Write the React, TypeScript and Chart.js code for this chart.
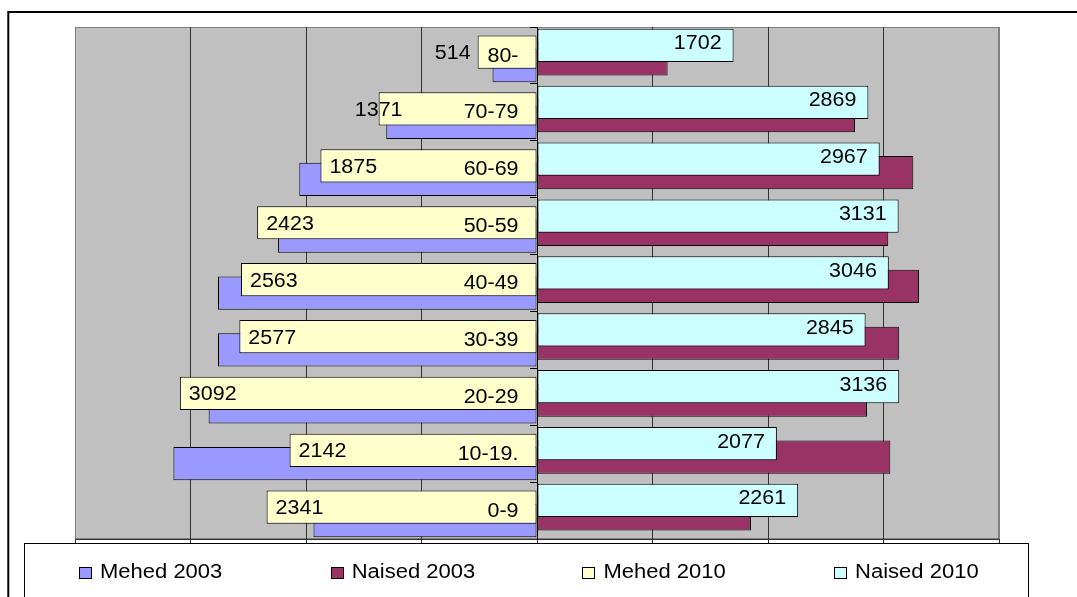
import React, { useEffect, useRef } from "react";
import { Chart, registerables } from "chart.js";

Chart.register(...registerables);

// ---- data ----
const categories = ["0-9", "10-19.", "20-29", "30-39", "40-49", "50-59", "60-69", "70-79", "80-"];
const mehed2003 = [1935, 3148, 2843, 2762, 2762, 2242, 2058, 1305, 385];
const naised2003 = [1853, 3059, 2857, 3136, 3308, 3041, 3258, 2753, 1131];
const mehed2010 = [2341, 2142, 3092, 2577, 2563, 2423, 1875, 1371, 514];
const naised2010 = [2261, 2077, 3136, 2845, 3046, 3131, 2967, 2869, 1702];
const seriesNames = ["Mehed 2003", "Naised 2003", "Mehed 2010", "Naised 2010"];
const seriesColors = ["#9999FF", "#993366", "#FFFFCC", "#CCFFFF"];
const axisMin = -4000;
const axisMax = 4000;
const axisStep = 1000;

const FONT = '"Liberation Sans", Arial, sans-serif';

function drawText(
  ctx: CanvasRenderingContext2D,
  text: string,
  x: number,
  baseline: number,
  align: "left" | "right" | "center",
  size = 19.5,
  sx = 1.1
) {
  ctx.save();
  ctx.font = `${size}px ${FONT}`;
  const w = ctx.measureText(text).width * sx;
  let left = x;
  if (align === "right") left = x - w;
  else if (align === "center") left = x - w / 2;
  ctx.translate(left, baseline);
  ctx.scale(sx, 1);
  ctx.textAlign = "left";
  ctx.textBaseline = "alphabetic";
  ctx.fillStyle = "#000";
  ctx.fillText(text, 0, 0);
  ctx.restore();
}

const backgroundPlugin = {
  id: "bgPlugin",
  beforeDraw(chart: any) {
    const { ctx, chartArea } = chart;
    ctx.save();
    ctx.fillStyle = "#ffffff";
    ctx.fillRect(0, 0, chart.width, chart.height);
    // outer frame
    ctx.strokeStyle = "#000";
    ctx.lineWidth = 2;
    ctx.strokeRect(8.3, 12, 2000, 2000);
    // plot area
    ctx.fillStyle = "#C0C0C0";
    ctx.fillRect(chartArea.left, chartArea.top, chartArea.right - chartArea.left, chartArea.bottom - chartArea.top);
    ctx.strokeStyle = "#808080";
    ctx.lineWidth = 1;
    ctx.strokeRect(chartArea.left + 0.5, chartArea.top + 0.5, chartArea.right - chartArea.left - 1, chartArea.bottom - chartArea.top - 1);
    ctx.restore();
  },
};

const labelPlugin = {
  id: "labelPlugin",
  afterDatasetsDraw(chart: any) {
    const ctx = chart.ctx as CanvasRenderingContext2D;
    const metaN = chart.getDatasetMeta(0);
    const metaM = chart.getDatasetMeta(1);
    metaM.data.forEach((el: any, i: number) => {
      const { x, y, base } = el.getProps(["x", "y", "base"], true);
      const len = base - x;
      const val = String(mehed2010[i]);
      drawText(ctx, categories[i], base - 18, y + 9.5, "right");
      if (len > 200) drawText(ctx, val, x + 9, y + 7, "left");
      else if (len > 100) drawText(ctx, val, x, y + 7, "center");
      else drawText(ctx, val, x - 7, y + 7, "right");
    });
    metaN.data.forEach((el: any, i: number) => {
      const { x, y } = el.getProps(["x", "y"], true);
      drawText(ctx, String(naised2010[i]), x - 12, y + 4, "right");
    });
  },
};

const legendPlugin = {
  id: "legendPlugin",
  afterDraw(chart: any) {
    const ctx = chart.ctx as CanvasRenderingContext2D;
    ctx.save();
    ctx.fillStyle = "#fff";
    ctx.fillRect(24, 543, 1005, 80);
    ctx.strokeStyle = "#000";
    ctx.lineWidth = 1;
    ctx.strokeRect(24.5, 543.5, 1004, 80);
    seriesNames.forEach((name, k) => {
      const x0 = 79 + k * 251.7;
      ctx.fillStyle = seriesColors[k];
      ctx.fillRect(Math.round(x0) + 0.5, 567.5, 12, 11);
      ctx.strokeStyle = "#000";
      ctx.strokeRect(Math.round(x0) + 0.5, 567.5, 12, 11);
      drawText(ctx, name, x0 + 21, 578.3, "left", 20, 1.1);
    });
    ctx.restore();
  },
};

export default function App() {
  const ref = useRef<HTMLCanvasElement | null>(null);
  useEffect(() => {
    if (!ref.current) return;
    const neg = (a: number[]) => a.map((v) => -v);
    const chart = new Chart(ref.current, {
      type: "bar",
      data: {
        labels: categories,
        datasets: [
          { label: seriesNames[3], data: naised2010, backgroundColor: seriesColors[3] },
          { label: seriesNames[2], data: neg(mehed2010), backgroundColor: seriesColors[2] },
          { label: seriesNames[1], data: naised2003, backgroundColor: seriesColors[1] },
          { label: seriesNames[0], data: neg(mehed2003), backgroundColor: seriesColors[0] },
        ].map((d) => ({
          ...d,
          borderColor: "#000",
          borderWidth: 1,
          borderSkipped: false,
          categoryPercentage: 0.472,
          barPercentage: 4.95,
        })),
      },
      options: {
        indexAxis: "y",
        animation: false,
        responsive: false,
        devicePixelRatio: 1,
        layout: { padding: { left: 75, top: 27, right: 78, bottom: 54 } },
        plugins: {
          legend: { display: false },
          tooltip: { enabled: false },
        },
        scales: {
          x: {
            type: "linear",
            min: axisMin,
            max: axisMax,
            ticks: { stepSize: axisStep, display: false },
            grid: {
              color: (c: any) =>
                c.tick && (c.tick.value === axisMin || c.tick.value === axisMax) ? "#808080" : "#333",
              lineWidth: 1,
              drawTicks: true,
              tickLength: 4,
              tickColor: "#333",
            },
            border: { display: true, color: "#333", width: 1 },
          },
          y: {
            type: "category",
            reverse: true,
            position: { x: 0 },
            offset: true,
            ticks: { display: false },
            grid: {
              offset: true,
              drawOnChartArea: false,
              drawTicks: true,
              tickLength: 7,
              tickColor: "#000",
            },
            border: { display: true, color: "#000", width: 1, z: 1 },
          },
        },
      } as any,
      plugins: [backgroundPlugin, labelPlugin, legendPlugin],
    });
    return () => chart.destroy();
  }, []);
  return (
    <canvas
      ref={ref}
      width={1077}
      height={597}
      style={{ position: "fixed", left: 0, top: 0, width: 1077, height: 597 }}
    />
  );
}
